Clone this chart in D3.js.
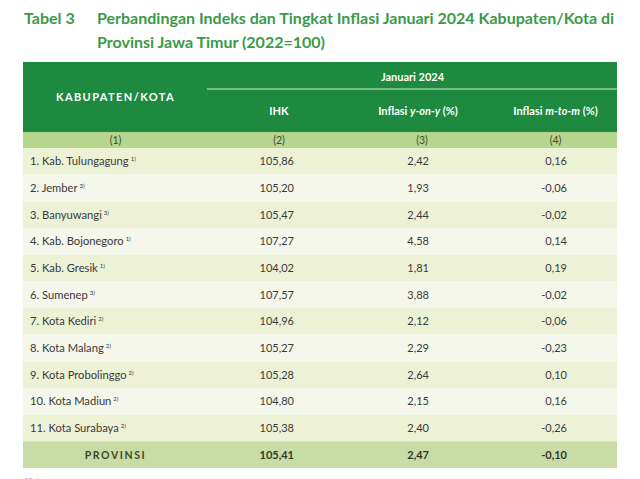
<!DOCTYPE html>
<html>
<head>
<meta charset="utf-8">
<script src="https://cdn.jsdelivr.net/npm/d3@7"></script>
<style>
  html, body { margin: 0; padding: 0; background: #fff; }
  svg { display: block; font-family: Lato, "Open Sans", sans-serif; }
</style>
</head>
<body>
<svg id="table" width="640" height="479"></svg>
<script>
const regions = ["1. Kab. Tulungagung", "2. Jember", "3. Banyuwangi", "4. Kab. Bojonegoro",
  "5. Kab. Gresik", "6. Sumenep", "7. Kota Kediri", "8. Kota Malang",
  "9. Kota Probolinggo", "10. Kota Madiun", "11. Kota Surabaya"];
const notes = ["1)", "3)", "3)", "1)", "1)", "3)", "2)", "2)", "2)", "2)", "2)"];
const ihk = [105.86, 105.20, 105.47, 107.27, 104.02, 107.57, 104.96, 105.27, 105.28, 104.80, 105.38];
const yoy = [2.42, 1.93, 2.44, 4.58, 1.81, 3.88, 2.12, 2.29, 2.64, 2.15, 2.40];
const mtm = [0.16, -0.06, -0.02, 0.14, 0.19, -0.02, -0.06, -0.23, 0.10, 0.16, -0.26];
const provinsi = {label: "PROVINSI", ihk: 105.41, yoy: 2.47, mtm: -0.10};
const colNumbers = ["(1)", "(2)", "(3)", "(4)"];
const columns = ["kab", "ihk", "yoy", "mtm"];

const svg = d3.select("#table");
const green = "#1d8a3f";

const locale = d3.formatLocale({decimal: ",", thousands: ".", grouping: [3], currency: ["", ""], minus: "-"});
const fmt = locale.format(".2f");

// title
const title = svg.append("g").attr("fill", "#3a9a48").attr("font-weight", 700).attr("font-size", 16);
title.append("text").attr("x", 24).attr("y", 24).text("Tabel 3");
title.append("text").attr("x", 97).attr("y", 24)
  .text("Perbandingan Indeks dan Tingkat Inflasi Januari 2024 Kabupaten/Kota di");
title.append("text").attr("x", 97).attr("y", 48).text("Provinsi Jawa Timur (2022=100)");

// column geometry
const edges = [23, 208, 350, 494, 617];
const colX = d3.scaleOrdinal().domain(columns).range(edges.slice(0, 4));
const colW = c => edges[columns.indexOf(c) + 1] - colX(c);
const colMid = c => colX(c) + colW(c) / 2;
const valRight = {ihk: 294, yoy: 429, mtm: 567};

// header
svg.append("rect").attr("x", 23).attr("y", 62).attr("width", 594).attr("height", 70).attr("fill", green);
svg.append("line").attr("x1", 207).attr("x2", 617).attr("y1", 89).attr("y2", 89)
  .attr("stroke", "#d6ecd6").attr("stroke-width", 1);

const head = svg.append("g").attr("fill", "#fff").attr("font-size", 11).attr("font-weight", 700)
  .attr("text-anchor", "middle");
head.append("text").attr("x", (208 + 617) / 2).attr("y", 81).text("Januari 2024");
head.append("text").attr("x", colMid("kab")).attr("y", 101).attr("letter-spacing", 1.4)
  .text("KABUPATEN/KOTA");
head.append("text").attr("x", colMid("ihk")).attr("y", 115).text("IHK");
const h3 = head.append("text").attr("x", colMid("yoy") - 4).attr("y", 115);
h3.append("tspan").text("Inflasi ");
h3.append("tspan").attr("font-style", "italic").text("y-on-y");
h3.append("tspan").text(" (%)");
const h4 = head.append("text").attr("x", colMid("mtm")).attr("y", 115);
h4.append("tspan").text("Inflasi ");
h4.append("tspan").attr("font-style", "italic").text("m-to-m");
h4.append("tspan").text(" (%)");

// column number row
svg.append("rect").attr("x", 23).attr("y", 132).attr("width", 594).attr("height", 16).attr("fill", "#b7d68d");
svg.append("g").selectAll("text").data(columns).join("text")
  .attr("x", d => colMid(d)).attr("y", 144)
  .attr("text-anchor", "middle").attr("font-size", 10.5).attr("fill", "#3d4a33")
  .text((d, i) => colNumbers[i]);

// body rows
const rows = regions.map((r, i) => ({label: r, note: notes[i], ihk: ihk[i], yoy: yoy[i], mtm: mtm[i]}));
const allRows = rows.concat([provinsi]);

const y = d3.scaleBand().domain(d3.range(allRows.length)).range([148, 468]).padding(0);

const row = svg.append("g").selectAll("g").data(allRows).join("g")
  .attr("transform", (d, i) => `translate(0,${y(i)})`);

row.append("rect").attr("x", 23).attr("width", 594).attr("height", y.bandwidth())
  .attr("fill", (d, i) => i === allRows.length - 1 ? "#c9dca6" : (i % 2 === 0 ? "#edf2d7" : "#f4f7ea"));

const mid = y.bandwidth() / 2 + 4;
const isProv = d => d.label === "PROVINSI";

const lab = row.append("text")
  .attr("x", d => isProv(d) ? colMid("kab") : 30)
  .attr("y", mid)
  .attr("text-anchor", d => isProv(d) ? "middle" : "start")
  .attr("font-size", d => isProv(d) ? 10.5 : 11.2)
  .attr("font-weight", d => isProv(d) ? 700 : 400)
  .attr("letter-spacing", d => isProv(d) ? 1.6 : 0)
  .attr("fill", d => isProv(d) ? "#3a4a2c" : "#3a3a3a");
lab.append("tspan").text(d => d.label);
lab.filter(d => d.note).append("tspan")
  .attr("dx", 2).attr("dy", -4).attr("font-size", 6).text(d => d.note);

["ihk", "yoy", "mtm"].forEach(c => {
  row.append("text")
    .attr("x", valRight[c]).attr("y", mid)
    .attr("text-anchor", "end")
    .attr("font-size", 11)
    .attr("font-weight", d => isProv(d) ? 700 : 400)
    .attr("fill", d => isProv(d) ? "#2f3a26" : "#3a3a3a")
    .text(d => fmt(d[c]));
});

// footnote (cut off by the page edge, as in the reference)
svg.append("text").attr("x", 25).attr("y", 485).attr("font-size", 10).attr("fill", "#555")
  .text("Keterangan:");
</script>
</body>
</html>
